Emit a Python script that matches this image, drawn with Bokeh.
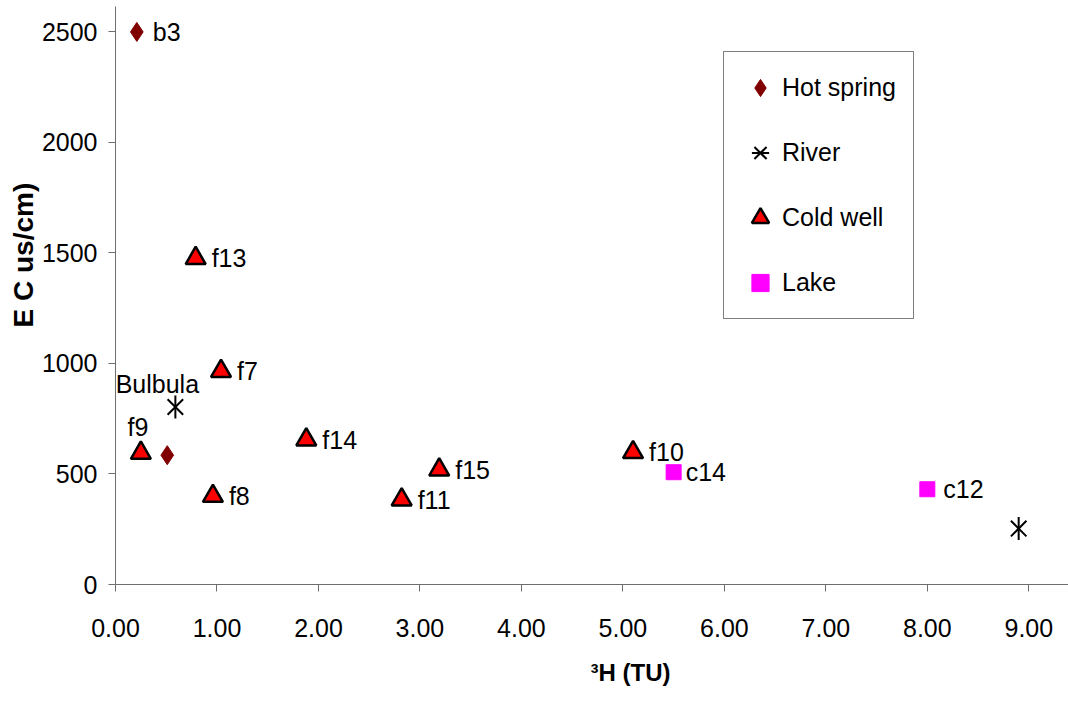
import math
from bokeh.plotting import figure
from bokeh.models import (Range1d, FixedTicker, NumeralTickFormatter, Legend,
                          LegendItem, Title, ColumnDataSource)
from bokeh.core.properties import value, field
from bokeh.embed import file_html
from bokeh.resources import INLINE

# ---------------- data ----------------
hot_x = [0.21, 0.51]
hot_y = [2500, 585]
hot_names = ["b3", ""]

river_x = [0.59, 8.90]
river_y = [803, 253]
river_names = ["Bulbula", ""]

well_x = [0.25, 0.79, 1.04, 0.96, 1.88, 2.82, 3.19, 5.10]
well_y = [595, 1476, 965, 400, 655, 384, 519, 598]
well_names = ["f9", "f13", "f7", "f8", "f14", "f11", "f15", "f10"]

lake_x = [5.50, 8.00]
lake_y = [508, 431]
lake_names = ["c14", "c12"]

series_names = ["Hot spring", "River", "Cold well", "Lake"]
x_ticks = [0, 1, 2, 3, 4, 5, 6, 7, 8, 9]
y_ticks = [0, 500, 1000, 1500, 2000, 2500]
x_title = "\u00b3H (TU)"
y_title = "E C us/cm)"

# ---------------- style ----------------
FONT = "Liberation Sans"
FS = "25px"
AXIS_COLOR = "#6e6e6e"
# label placement (screen px): default right of point
LABEL_STYLE = {"Bulbula": (-18, -23, "center"), "f9": (-3, -26, "center"),
               "c14": (12, 0, "left")}
DEFAULT_LABEL = (16, 0, "left")

p = figure(width=1068, height=710, output_backend="svg", toolbar_location=None,
           x_range=Range1d(0, 9.391), y_range=Range1d(0, 2615),
           min_border_left=115, min_border_right=0, min_border_top=6,
           min_border_bottom=126)
p.outline_line_color = None
p.background_fill_color = "white"
p.border_fill_color = "white"
p.grid.visible = False

for ax in (p.xaxis[0], p.yaxis[0]):
    ax.axis_line_color = AXIS_COLOR
    ax.axis_line_width = 1
    ax.major_tick_line_color = AXIS_COLOR
    ax.major_tick_out = 7
    ax.major_tick_in = 0
    ax.minor_tick_line_color = None
    ax.major_label_text_font = FONT
    ax.major_label_text_font_size = FS
    ax.major_label_text_color = "black"

p.xaxis.ticker = FixedTicker(ticks=x_ticks)
p.yaxis.ticker = FixedTicker(ticks=y_ticks)
p.xaxis.formatter = NumeralTickFormatter(format="0.00")
p.yaxis.formatter = NumeralTickFormatter(format="0")
p.xaxis.major_label_standoff = 27
p.yaxis.major_label_standoff = 11

r_hot = p.scatter(hot_x, hot_y, marker="diamond", size=19,
                  fill_color="#800000", line_color="#800000")
r_river_x = p.scatter(river_x, river_y, marker="x", size=22,
                      line_color="black", line_width=2)
r_river_v = p.scatter(river_x, river_y, marker="dash", angle=math.pi / 2, size=23,
                      line_color="black", line_width=2)
r_well = p.scatter(well_x, well_y, marker="triangle", size=20,
                   fill_color="#FF0000", line_color="black", line_width=2.5)
r_lake = p.scatter(lake_x, lake_y, marker="square", size=15,
                   fill_color="#FF00FF", line_color="#FF00FF")

# point labels
lx, ly, lt, dx, dy, al = [], [], [], [], [], []
for xs, ys, ns in ((hot_x, hot_y, hot_names), (river_x, river_y, river_names),
                   (well_x, well_y, well_names), (lake_x, lake_y, lake_names)):
    for x, y, n in zip(xs, ys, ns):
        if not n:
            continue
        ox, oy, a = LABEL_STYLE.get(n, DEFAULT_LABEL)
        lx.append(x); ly.append(y); lt.append(n)
        dx.append(ox); dy.append(oy); al.append(a)
src = ColumnDataSource(dict(x=lx, y=ly, text=lt, dx=dx, dy=dy, align=al))
p.text(x="x", y="y", text="text", source=src, x_offset=field("dx"),
       y_offset=field("dy"), text_align=field("align"), text_baseline="middle",
       text_font=value(FONT), text_font_size=FS, text_color="black")

legend = Legend(items=[
    LegendItem(label=series_names[0], renderers=[r_hot]),
    LegendItem(label=series_names[1], renderers=[r_river_x, r_river_v]),
    LegendItem(label=series_names[2], renderers=[r_well]),
    LegendItem(label=series_names[3], renderers=[r_lake]),
], location=(608, 265), padding=14, glyph_width=44, glyph_height=43,
    label_standoff=0, label_width=117, label_height=43, spacing=22,
    border_line_color="black", border_line_width=1, margin=0,
    label_text_font=FONT, label_text_font_size=FS, label_text_color="black",
    background_fill_color="white", background_fill_alpha=1.0)
p.add_layout(legend)

p.add_layout(Title(text=x_title, align="left", offset=475, standoff=34,
                   text_font=FONT, text_font_size="24px", text_font_style="bold",
                   text_color="black"), "below")
p.add_layout(Title(text=y_title, align="left", offset=257, standoff=0,
                   text_font=FONT, text_font_size="28px", text_font_style="bold",
                   text_color="black"), "left")

open("out.html", "w").write(file_html(p, INLINE))
